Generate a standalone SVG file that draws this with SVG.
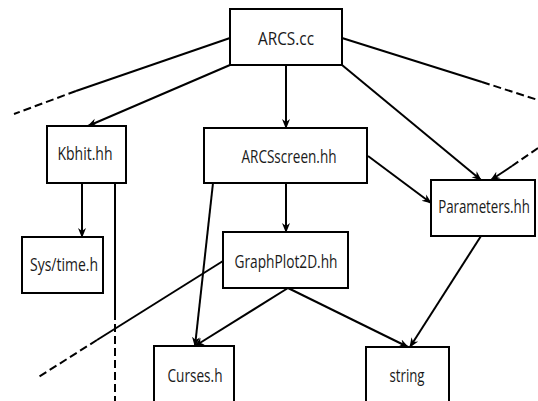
<svg xmlns="http://www.w3.org/2000/svg" width="538" height="401" viewBox="0 0 538 401">
<style>
.box{fill:#fff;stroke:#000;stroke-width:2}
.lbl{font-family:"Open Sans","Liberation Sans",sans-serif;font-size:17.5px;fill:#1a1a1a;text-anchor:middle}
.ln{fill:none;stroke:#000;stroke-width:2}
.dash{fill:none;stroke:#000;stroke-width:2;stroke-dasharray:8 4}
</style>
<defs>
<marker id="arr" viewBox="0 0 10 10" refX="9" refY="5" markerWidth="10" markerHeight="10" markerUnits="userSpaceOnUse" orient="auto">
<path d="M0,1 L10,5 L0,9 L3,5 Z" fill="#000"/>
</marker>
</defs>
<rect width="538" height="401" fill="#fff"/>
<g id="connectors">
<path class="ln" d="M230,38 L76,91"/>
<path class="dash" d="M76,91 L14,114"/>
<path class="ln" d="M230,65 L88,126" marker-end="url(#arr)"/>
<path class="ln" d="M286,65 L286,128" marker-end="url(#arr)"/>
<path class="ln" d="M342,65 L481,180" marker-end="url(#arr)"/>
<path class="ln" d="M342,38 L482,82"/>
<path class="dash" d="M482,82 L538,100"/>
<path class="dash" d="M538,148 L512,166"/>
<path class="ln" d="M512,166 L491,180" marker-end="url(#arr)"/>
<path class="ln" d="M368,156 L431,203" marker-end="url(#arr)"/>
<path class="ln" d="M286,183 L286,232" marker-end="url(#arr)"/>
<path class="ln" d="M213,183 L195,346" marker-end="url(#arr)"/>
<path class="ln" d="M223,261 L97,340"/>
<path class="dash" d="M97,340 L37,378"/>
<path class="ln" d="M288,288 L195,346" marker-end="url(#arr)"/>
<path class="ln" d="M288,288 L408,347" marker-end="url(#arr)"/>
<path class="ln" d="M481,236 L410,347" marker-end="url(#arr)"/>
<path class="ln" d="M82,183 L82,237" marker-end="url(#arr)"/>
<path class="ln" d="M115,183 L115,312"/>
<path class="dash" d="M115,312 L115,401"/>
</g>
<g id="arcs_cc"><rect class="box" x="230" y="9" width="112" height="56"/><text class="lbl" x="286" y="45" textLength="56" lengthAdjust="spacingAndGlyphs">ARCS.cc</text></g>
<g id="kbhit"><rect class="box" x="47" y="126" width="79" height="57"/><text class="lbl" x="85" y="160" textLength="55" lengthAdjust="spacingAndGlyphs">Kbhit.hh</text></g>
<g id="arcsscreen"><rect class="box" x="204" y="128" width="163" height="55"/><text class="lbl" x="289" y="163" textLength="95" lengthAdjust="spacingAndGlyphs">ARCSscreen.hh</text></g>
<g id="parameters"><rect class="box" x="431" y="180" width="104" height="56"/><text class="lbl" transform="translate(484,213) scale(0.76,1)" x="0" y="0">Parameters.hh</text></g>
<g id="systime"><rect class="box" x="22" y="237" width="81" height="56"/><text class="lbl" x="64" y="271" textLength="68" lengthAdjust="spacingAndGlyphs">Sys/time.h</text></g>
<g id="graphplot"><rect class="box" x="223" y="232" width="125" height="56"/><text class="lbl" x="286" y="268" textLength="103" lengthAdjust="spacingAndGlyphs">GraphPlot2D.hh</text></g>
<g id="curses"><rect class="box" x="154" y="346" width="80" height="70"/><text class="lbl" x="195" y="382" textLength="55" lengthAdjust="spacingAndGlyphs">Curses.h</text></g>
<g id="string"><rect class="box" x="366" y="347" width="83" height="70"/><text class="lbl" x="407" y="382" textLength="35" lengthAdjust="spacingAndGlyphs">string</text></g>
</svg>
